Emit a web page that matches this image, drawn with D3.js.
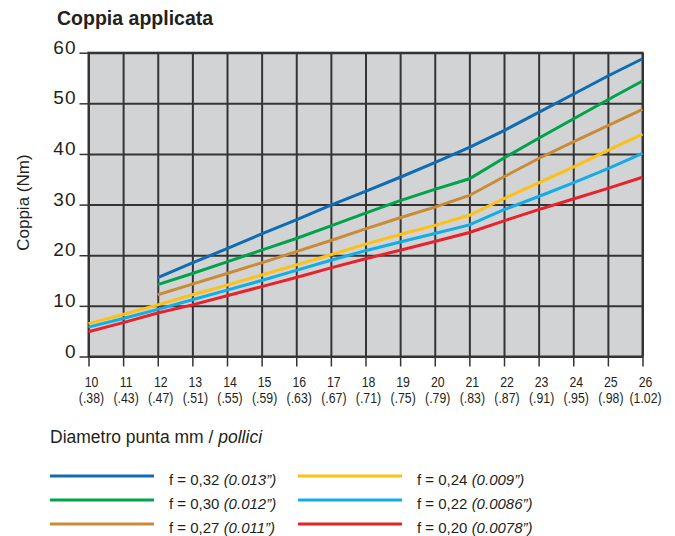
<!DOCTYPE html>
<html>
<head>
<meta charset="utf-8">
<script src="https://cdn.jsdelivr.net/npm/d3@7"></script>
<style>
  body { margin: 0; background: #fff; }
  svg text { fill: #231f20; font-family: "Liberation Sans", Arial, sans-serif; }
</style>
</head>
<body>
<svg id="chart" width="675" height="536"></svg>
<script>
// diameter of the tip, mm, and the same in inches
var diamMM = [10, 11, 12, 13, 14, 15, 16, 17, 18, 19, 20, 21, 22, 23, 24, 25, 26];
var diamInch = ["(.38)", "(.43)", "(.47)", "(.51)", "(.55)", "(.59)", "(.63)", "(.67)", "(.71)",
  "(.75)", "(.79)", "(.83)", "(.87)", "(.91)", "(.95)", "(.98)", "(1.02)"];
var yTicks = [0, 10, 20, 30, 40, 50, 60];

// torque (Nm) per feed; the three heavier feeds start at 12 mm
var f032 = [null, null, 15.6, 18.5, 21.3, 24.2, 27.0, 29.9, 32.6, 35.4, 38.3, 41.3, 44.6, 48.2, 51.8, 55.4, 58.8];
var f030 = [null, null, 14.2, 16.4, 18.7, 21.0, 23.3, 25.8, 28.3, 30.8, 33.0, 35.1, 39.2, 43.1, 46.9, 50.7, 54.4];
var f027 = [null, null, 12.2, 14.3, 16.4, 18.5, 20.7, 22.9, 25.2, 27.4, 29.5, 31.8, 35.5, 39.1, 42.4, 45.6, 48.8];
var f024 = [6.5, 8.3, 10.2, 12.2, 14.1, 16.1, 18.1, 20.1, 22.2, 24.1, 25.9, 27.9, 31.2, 34.3, 37.4, 40.7, 43.9];
var f022 = [5.8, 7.5, 9.3, 11.2, 13.1, 15.0, 17.0, 19.0, 20.9, 22.6, 24.3, 26.0, 29.0, 31.6, 34.3, 37.1, 40.1];
var f020 = [4.9, 6.7, 8.6, 10.2, 12.0, 13.8, 15.6, 17.5, 19.3, 21.0, 22.7, 24.5, 26.8, 29.0, 31.1, 33.2, 35.4];

var seriesNames = ["f = 0,32 ", "f = 0,30 ", "f = 0,27 ", "f = 0,24 ", "f = 0,22 ", "f = 0,20 "];
var seriesInch = ["(0.013\u201D)", "(0.012\u201D)", "(0.011\u201D)", "(0.009\u201D)", "(0.0086\u201D)", "(0.0078\u201D)"];
var seriesColors = ["#0e6cb4", "#00a24c", "#c98b36", "#fdc113", "#12ade6", "#e9222a"];
var seriesValues = [f032, f030, f027, f024, f022, f020];

var svg = d3.select("#chart");
var margin = {left: 88.5, top: 52.7, right: 32.5, bottom: 179.5};
var width = 675 - margin.left - margin.right,
  height = 536 - margin.top - margin.bottom;

var x = d3.scaleLinear().domain([10, 26]).range([0, width]);
var y = d3.scaleLinear().domain([0, 60]).range([height, 0]);

var g = svg.append("g").attr("transform", "translate(" + margin.left + "," + margin.top + ")");

g.append("rect")
  .attr("width", width)
  .attr("height", height)
  .attr("fill", "#d1d3d4");

// grid
g.append("g")
  .attr("transform", "translate(0," + height + ")")
  .call(d3.axisBottom(x).tickValues(diamMM).tickSize(-height).tickFormat(""));
g.append("g")
  .call(d3.axisLeft(y).tickValues(yTicks).tickSize(-width).tickFormat(""));
g.selectAll(".domain").remove();
g.selectAll(".tick line").attr("stroke", "#353434").attr("stroke-width", 2);

// outer ticks and labels
var yAxis = g.append("g")
  .call(d3.axisLeft(y).tickValues(yTicks).tickSize(9).tickPadding(3));
yAxis.select(".domain").remove();
yAxis.selectAll(".tick line").attr("stroke", "#353434").attr("stroke-width", 1.5);
yAxis.selectAll(".tick text")
  .attr("dy", "0.03em")
  .style("font-size", "19px")
  .style("letter-spacing", "1px")
  .attr("fill", "#231f20");

var xAxis = g.append("g")
  .attr("transform", "translate(0," + height + ")")
  .call(d3.axisBottom(x).tickValues(diamMM).tickSize(10).tickFormat(""));
xAxis.select(".domain").remove();
xAxis.selectAll(".tick line").attr("stroke", "#353434").attr("stroke-width", 1.5);

// two-line tick labels, condensed like the original
var xLab = g.append("g").selectAll("text.xlab")
  .data(diamMM)
  .join("text")
  .attr("class", "xlab")
  .attr("transform", function (d) { return "translate(" + (x(d) + 3) + "," + (height + 30) + ") scale(0.82,1)"; })
  .attr("text-anchor", "middle")
  .style("font-size", "15px");
xLab.append("tspan")
  .attr("x", 0)
  .text(function (d) { return d; });
xLab.append("tspan")
  .attr("x", 0)
  .attr("dy", 17)
  .text(function (d, i) { return diamInch[i]; });

// plot border
g.append("rect")
  .attr("width", width)
  .attr("height", height)
  .attr("fill", "none")
  .attr("stroke", "#353434")
  .attr("stroke-width", 2);

// curves
var line = d3.line()
  .defined(function (d) { return d != null; })
  .x(function (d, i) { return x(diamMM[i]); })
  .y(function (d) { return y(d); });

g.selectAll("path.serie")
  .data(d3.range(seriesValues.length).reverse())
  .join("path")
  .attr("class", "serie")
  .attr("fill", "none")
  .attr("stroke", function (i) { return seriesColors[i]; })
  .attr("stroke-width", 3)
  .attr("d", function (i) { return line(seriesValues[i]); });

// titles
svg.append("text")
  .attr("transform", "translate(57,25) scale(0.93,1)")
  .style("font-size", "21px")
  .style("font-weight", "bold")
  .text("Coppia applicata");

svg.append("text")
  .attr("transform", "translate(29," + (margin.top + height / 2 - 2) + ") rotate(-90)")
  .attr("text-anchor", "middle")
  .style("font-size", "17px")
  .text("Coppia (Nm)");

var xt = svg.append("text")
  .attr("x", 50)
  .attr("y", 443)
  .style("font-size", "17.5px");
xt.append("tspan").text("Diametro punta mm / ");
xt.append("tspan").style("font-style", "italic").text("pollici");

// legend
var legend = svg.selectAll("g.legendEntry")
  .data(seriesNames)
  .join("g")
  .attr("class", "legendEntry")
  .attr("transform", function (d, i) {
    return "translate(" + (i < 3 ? 50 : 298) + "," + (476 + (i % 3) * 24) + ")";
  });

legend.append("line")
  .attr("x1", 0)
  .attr("x2", 104)
  .attr("stroke", function (d, i) { return seriesColors[i]; })
  .attr("stroke-width", 3);

var lt = legend.append("text")
  .attr("x", 119)
  .attr("y", 9)
  .style("font-size", "15px");
lt.append("tspan").text(function (d) { return d; });
lt.append("tspan").style("font-style", "italic").text(function (d, i) { return seriesInch[i]; });
</script>
</body>
</html>
